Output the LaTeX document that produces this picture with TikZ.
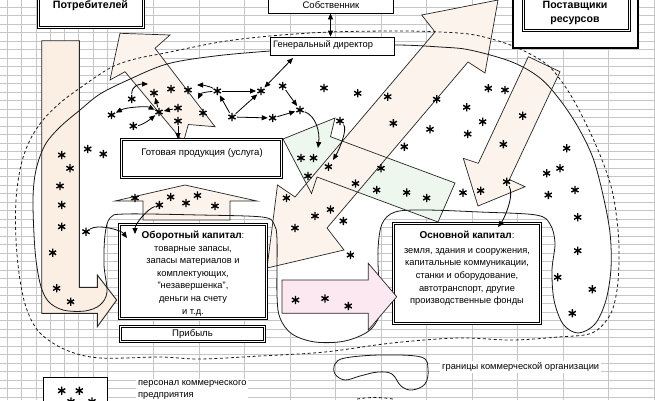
\documentclass[tikz,border=0pt]{standalone}
\usepackage{fontspec}
\setmainfont{Liberation Sans}
\usetikzlibrary{arrows.meta,calc}
\definecolor{gridc}{RGB}{198,198,198}
\definecolor{cream}{RGB}{252,244,236}
\definecolor{peach}{RGB}{251,239,228}
\definecolor{pgreen}{RGB}{238,247,238}
\definecolor{ppink}{RGB}{252,232,241}
\def\pathMain{plot[smooth cycle, tension=0.55] coordinates {(33,200) (36,170) (45,145) (60,127) (80,110) (100,94) (128,80) (167,64) (215,56) (270,51) (330,47) (395,45) (440,47) (470,50) (512,62) (540,78) (560,100) (578,127) (593,158) (603,195) (610,233) (611,268) (606,300) (595,324) (578,333) (563,324) (554,300) (552,270) (555,243) (550,224) (536,215) (480,212) (425,210) (395,212) (382,224) (378,250) (379,285) (381,310) (370,330) (345,341) (315,342) (292,334) (280,318) (277,295) (277,240) (274,224) (262,217) (200,215) (125,214) (110,218) (105,235) (104,265) (107,292) (100,305) (85,311) (63,310) (48,301) (40,283) (35,250)}}
\def\pathDash{plot[smooth cycle, tension=0.55] coordinates {(330,32) (400,31) (440,32) (475,35) (513,46) (545,63) (562,82) (578,108) (598,150) (612,190) (618,230) (619,260) (617,290) (610,315) (592,333) (558,337) (512,340) (458,338) (392,343) (325,352) (260,356) (200,359) (160,357) (100,358) (66,350) (40,333) (27,310) (20,280) (16,240) (16,200) (21,165) (30,140) (43,120) (60,103) (80,88) (110,68) (135,59) (165,53) (220,42) (270,36)}}
\def\pathLeg{plot[smooth cycle, tension=0.6] coordinates {(335,364) (345,358) (380,355) (421,357) (428,369) (425,384) (412,390) (401,386) (392,374) (378,372) (360,376) (345,380) (335,374)}}
\def\pathBandA{(267,268) -- (277.5,185) -- (295,197) -- (435,32) -- (421.7,15) -- (498,0) -- (485,73) -- (468,62) -- (327,228) -- (344,250) -- cycle}
\def\pathBandB{(528.3,56.7) -- (560,71.7) -- (509.4,179.5) -- (525,186.7) -- (478,206) -- (463.3,158.3) -- (478.3,163.3) -- cycle}
\def\pathBandC{(283,139) -- (335,118) -- (330.5,136.7) -- (455,183) -- (438,222) -- (317,177) -- (311.5,193.5) -- cycle}
\def\pathArrB{(120,33.3) -- (170,35) -- (155,48.3) -- (215,126.7) -- (188.3,124.5) -- (183.5,142) -- (125,71.7) -- (110,80) -- cycle}
\def\pathArrC{(185,185) -- (257,201) -- (230,201) -- (230,220) -- (143,220) -- (143,201) -- (115,201) -- cycle}
\def\pathL{(41.7,40.7) -- (79.3,40.7) -- (79.3,287.3) -- (97.3,287.3) -- (97.3,275) -- (116.7,300) -- (97.3,326.7) -- (97.3,313.3) -- (41.7,313.3) -- cycle}
\def\pathPink{(282,280) -- (368.3,280) -- (368.3,263.3) -- (396.7,296.7) -- (368.3,330) -- (368.3,313.3) -- (282,313.3) -- cycle}
\begin{document}
\begin{tikzpicture}[x=1pt,y=-1pt,
  gridl/.style={draw=gridc, line width=0.55pt},
  outl/.style={draw=black!85, line width=0.7pt, line join=miter},
  curv/.style={draw=black!90, line width=0.8pt},
  dashl/.style={draw=black!90, line width=0.8pt, dash pattern=on 3pt off 2.5pt},
  sbox/.style={draw=black, fill=white, line width=0.8pt, inner sep=0pt},
  dbox/.style={draw=black, fill=white, double=white, double distance=1.4pt, line width=0.8pt, inner sep=0pt},
  txt/.style={font=\fontsize{9.3}{12.6}\selectfont, inner sep=0pt},
  btxt/.style={font=\fontsize{10.7}{15}\selectfont\bfseries, inner sep=0pt},
  astk/.style={circle, inner sep=0pt, minimum size=9.5pt, path picture={
     \draw[line width=1.4pt, shift={(path picture bounding box.center)}]
       (0,-4.1) -- (0,4.1) (-3.6,-2.05) -- (3.6,2.05) (-3.6,2.05) -- (3.6,-2.05);}},
  sar/.style={-{Triangle[length=6pt,width=5pt]}, line width=0.8pt},
  sarr/.style={{Triangle[length=6pt,width=5pt]}-{Triangle[length=6pt,width=5pt]}, line width=0.8pt}
]
\useasboundingbox (0,0) rectangle (655,400);
\clip (0,0) rectangle (655,400);
% grid
\foreach \x in {7.3,21.7,36,50,64,78,93,107.5,153,199,244.5,290,335.5,381,426.5,472,517.5,563,608.5,654}
  \draw[gridl] (\x,0) -- (\x,400);
\foreach \i in {0,...,46}
  \draw[gridl] (0,{7.3+8.47*\i}) -- (655,{7.3+8.47*\i});
% organisation body
\fill[white] \pathMain;
% block arrows: fills
\fill[pgreen] \pathBandC;
\fill[cream] \pathBandA;
\fill[cream] \pathBandB;
\fill[cream] \pathArrB;
\fill[cream] \pathArrC;
\fill[peach] \pathL;
% block arrows: outlines
\draw[outl] \pathBandC;
\draw[outl] \pathBandA;
\draw[outl] \pathBandB;
\draw[outl] \pathArrB;
\draw[outl] \pathArrC;
\draw[outl, line width=0.9pt] \pathL;
% boundaries
\draw[curv] \pathMain;
\draw[dashl] \pathDash;
\draw[curv] \pathLeg;
\draw[dashl] (357,399) .. controls (370,397) and (380,397) .. (393,399);
% boxes
\node[sbox, minimum width=125, minimum height=30] (sob) at (330.5,-2) {};
\node[sbox, minimum width=124, minimum height=18] (gd) at (332,46) {};
\node[dbox, minimum width=105, minimum height=46] (potr) at (91,4.75) {};
\node[sbox, line width=1.1pt, minimum width=125, minimum height=68] (post) at (575.5,14) {};
\node[dbox, minimum width=106.3, minimum height=50] (posti) at (576.35,5.5) {};
\node[dbox, minimum width=160, minimum height=38] (gp) at (201.5,158.5) {};
\node[dbox, minimum width=147, minimum height=94] (ob) at (193,271.5) {};
\node[dbox, minimum width=147, minimum height=100] (os) at (467,273.5) {};
\node[dbox, minimum width=144, minimum height=15] (pr) at (192.5,334) {};
\node[sbox, minimum width=64, minimum height=40] (leg) at (75,397) {};
% pink arrow
\draw[outl, fill=ppink] \pathPink;
% texts
\node[btxt] (tpotr) at (90.5,6) {Потребителей};
\node[txt, font=\fontsize{9.5}{12}\selectfont] (tsob) at (331,5) {Собственник};
\node[txt, anchor=west] (tgd) at (273,45.5) {Генеральный директор};
\node[btxt, font=\fontsize{10.6}{15}\selectfont\bfseries] (tpost1) at (575,6) {Поставщики};
\node[btxt, font=\fontsize{10.6}{15}\selectfont\bfseries] (tpost2) at (575,21) {ресурсов};
\node[txt, font=\fontsize{9.6}{12}\selectfont] (tgp) at (202,153) {Готовая продукция (услуга)};
\node[txt, align=center] (tob) at (193,273.5) {{\fontsize{10}{12.6}\selectfont\bfseries Оборотный капитал}:\\товарные запасы,\\запасы материалов и\\комплектующих,\\"незавершенка",\\деньги на счету\\и т.д.};
\node[txt, align=center] (tos) at (467,268.5) {{\fontsize{10}{12.6}\selectfont\bfseries Основной капитал}:\\[2pt]земля, здания и сооружения,\\капитальные коммуникации,\\станки и оборудование,\\автотранспорт, другие\\производственные фонды};
\node[txt, font=\fontsize{9.6}{12}\selectfont] (tpr) at (192.5,334) {Прибыль};
\node[txt, font=\fontsize{9.3}{11.5}\selectfont, anchor=north west, align=left, fill=white, inner sep=2pt] (tpers) at (136,378.5) {персонал коммерческого\\предприятия};
\node[txt, anchor=west, fill=white, inner sep=2pt] (tgr) at (440,367) {границы коммерческой организации};
% stars
\foreach \n/\x/\y in {1/131.7/99, 2/154/93, 3/171/89, 4/188/90, 5/159/112, 6/178/108, 7/178/121, 8/203/113, 9/111.5/115, 10/133.3/126, 11/217.3/91, 12/232/117, 13/261/91, 14/272.7/118, 15/282.7/86, 16/300/110, 17/324/88, 18/340/121, 19/357.7/93.3, 20/387.7/96.7, 21/436.7/99.3, 22/488.3/88.3, 23/505/90, 24/466.7/107.3, 25/522.7/115.7, 26/393.3/123.3, 27/430/129.3, 28/467.7/134, 29/482.7/121.7, 30/404.3/146.7, 31/503.3/144.3, 32/566.7/148.3, 33/560/168.3, 34/546.7/173.3, 35/301/158, 36/313.5/158, 37/328.5/166.7, 38/381/168.3, 39/308/176, 40/355.5/183.5, 41/376.7/190, 42/406.7/192.5, 43/426.7/198, 44/463/192.7, 45/480.7/190.7, 46/506.7/181.7, 47/548.3/195, 48/575/190, 49/286.5/198, 50/330.5/209.5, 51/315/216, 52/343.3/221, 53/295/228, 54/350.5/255, 55/87.7/149, 56/103.3/154, 57/61.7/155, 58/70/168.3, 59/60/186, 60/61.7/205, 61/61.7/226.7, 62/86/231.7, 63/52.7/252.7, 64/56.7/288.3, 65/70.7/301.7, 66/135/198, 67/159.3/205, 68/170.7/197, 69/186/203, 70/197.5/195.5, 71/215/206, 72/295.5/300, 73/325/298.5, 74/348.3/306, 75/577.7/217.3, 76/577.7/250.7, 77/557.7/277.3, 78/592.3/289.3, 79/572.3/313.3, 80/61.7/390.7, 81/79.3/390.7, 82/71/401.5, 83/92/401.5}
  \node[astk] (s\n) at (\x,\y) {};
% loose ends of connectors
\coordinate (e1) at (148,84);
\coordinate (e7a) at (197,85);
\coordinate (e7b) at (198,99);
\coordinate (e13) at (293,58);
\coordinate (e15) at (318,148);
\coordinate (e16) at (333,160);
\coordinate (e17) at (127,238);
\coordinate (e18) at (135,234);
\coordinate (e19) at (498,227);
% connectors
\draw[sarr] (sob.south) -- (sob.south |- gd.north);
\draw[sar] (s1) .. controls +(0,-14) and +(-8,0) .. (e1);
\draw[sar] (s5) -- (s2);
\draw[sarr] (s9) .. controls +(15,-8) and +(-12,-6) .. (s5);
\draw[sar] (s10) .. controls +(10,-1) and +(-6,5) .. (s5);
\draw[sar] (s6) -- (s5);
\draw[sar] (s7) -- (s7 |- gp.north);
\draw[sar] (s11) .. controls +(-6,-4) and +(6,0) .. (e7a);
\draw[sar] (s11) .. controls +(-12,1) and +(3,-6) .. (e7b);
\draw[sar] (s11) -- (s13);
\draw[sar] (s12) -- (s11);
\draw[sar] (s12) -- (s13);
\draw[sar] (s12) -- (s14);
\draw[sar] (s14) -- (s16);
\draw[sarr] (s13) -- (e13);
\draw[sar] (s15) -- (s16);
\draw[sar] (s16) .. controls +(16,6) and +(2,-16) .. (e15);
\draw[sar] (s18) .. controls +(8,8) and +(6,-10) .. (e16);
\draw[sar] (s62) .. controls +(12,-8) and +(-6,-8) .. (e17);
\draw[sar] (s67) .. controls +(-12,4) and +(0,-10) .. (e18);
\draw[sar] (s46) .. controls +(8,14) and +(6,-8) .. (e19);
\end{tikzpicture}
\end{document}
